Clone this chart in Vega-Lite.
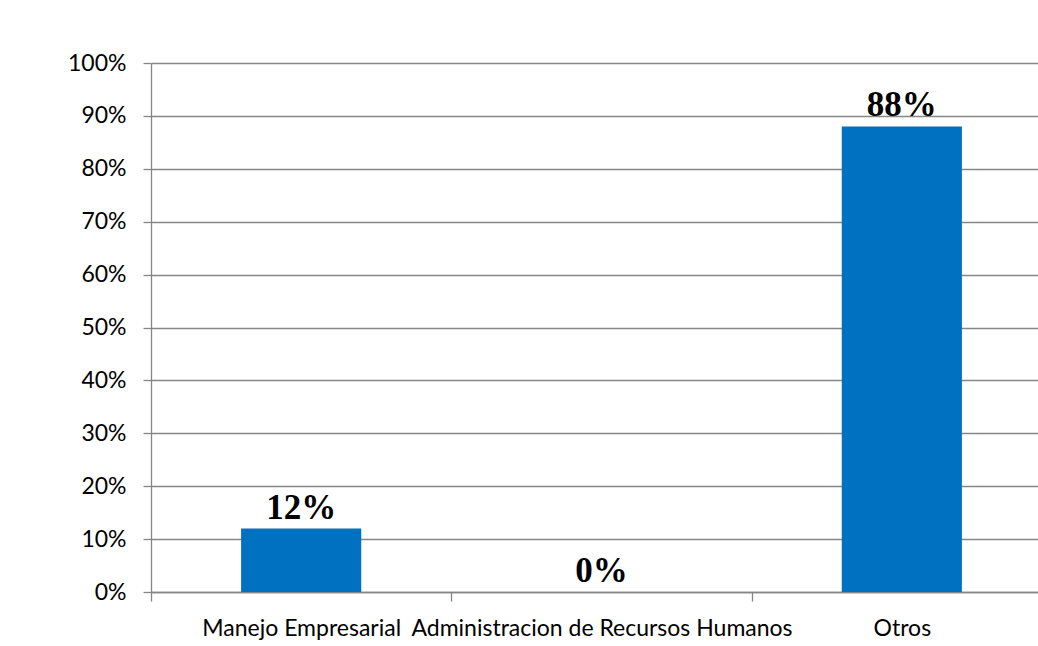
{
  "$schema": "https://vega.github.io/schema/vega-lite/v6.json",
  "width": 901,
  "height": 529,
  "autosize": "none",
  "padding": {"left": 151, "top": 63, "right": 0, "bottom": 54},
  "background": "white",
  "config": {"view": {"stroke": null}},
  "data": {
    "values": [
      {"categoria": "Manejo Empresarial", "valor": 0.12},
      {"categoria": "Administracion de Recursos Humanos", "valor": 0.0},
      {"categoria": "Otros", "valor": 0.88}
    ]
  },
  "encoding": {
    "x": {
      "field": "categoria",
      "type": "nominal",
      "sort": null,
      "scale": {"paddingInner": 0, "paddingOuter": 0},
      "axis": {
        "title": null,
        "labelAngle": 0,
        "labelOverlap": false,
        "labelLimit": 0,
        "labelFont": "Lato",
        "labelFontSize": 23,
        "labelColor": "#000000",
        "labelPadding": 16,
        "tickBand": "extent",
        "tickSize": 9,
        "tickColor": "#868686",
        "tickWidth": 1.3,
        "domainColor": "#868686",
        "domainWidth": 1.3,
        "grid": false
      }
    },
    "y": {
      "field": "valor",
      "type": "quantitative",
      "scale": {"domain": [0, 1], "nice": false},
      "axis": {
        "title": null,
        "values": [0, 0.1, 0.2, 0.3, 0.4, 0.5, 0.6, 0.7, 0.8, 0.9, 1.0],
        "format": ".0%",
        "labelFont": "Lato",
        "labelFontSize": 23,
        "labelColor": "#000000",
        "labelPadding": 17,
        "tickSize": 8,
        "tickColor": "#868686",
        "tickWidth": 1.3,
        "domainColor": "#868686",
        "domainWidth": 1.3,
        "grid": true,
        "gridColor": "#868686",
        "gridWidth": 1.3,
        "gridOpacity": 1
      }
    }
  },
  "layer": [
    {
      "mark": {"type": "bar", "color": "#0070C0", "width": {"band": 0.4}}
    },
    {
      "mark": {
        "type": "text",
        "font": "Liberation Serif",
        "fontWeight": "bold",
        "fontSize": 35,
        "color": "#000000",
        "baseline": "alphabetic",
        "dy": -10
      },
      "encoding": {
        "text": {"field": "valor", "type": "quantitative", "format": ".0%"}
      }
    }
  ]
}
